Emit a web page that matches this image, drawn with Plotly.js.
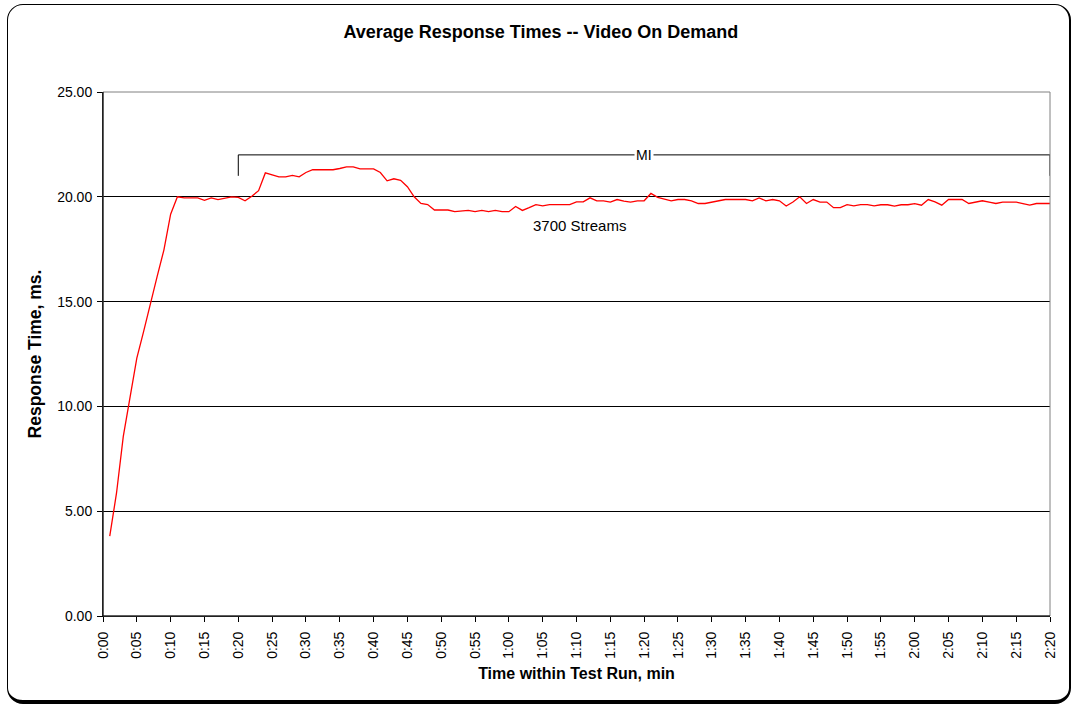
<!DOCTYPE html>
<html>
<head>
<meta charset="utf-8">
<script src="https://cdn.plot.ly/plotly-3.0.1.min.js"></script>
<style>
  html, body { margin: 0; padding: 0; background: #fff; }
  #wrap { position: relative; width: 1071px; height: 708px; overflow: hidden; }
  #chart { position: absolute; left: 0; top: 0; width: 1071px; height: 708px; }
  #frame { position: absolute; left: 7px; top: 4px; width: 1064px; height: 700px;
           border: 1.5px solid #000; border-bottom-width: 4px; border-right-width: 2px;
           border-radius: 16px; pointer-events: none; box-sizing: border-box; }
</style>
</head>
<body>
<div id="wrap">
  <div id="chart"></div>
  <div id="frame"></div>
</div>
<script>
// ---- data ----
const firstMinute = 1;
const responseTimes = [
  3.81, 5.87, 8.57, 10.48, 12.30, 13.57, 14.92, 16.19, 17.46, 19.17,
  20.00, 19.95, 19.95, 19.95, 19.83, 19.95, 19.87, 19.94, 20.00, 19.97,
  19.81, 20.03, 20.29, 21.14, 21.03, 20.95, 20.95, 21.02, 20.95, 21.16,
  21.29, 21.29, 21.29, 21.29, 21.35, 21.43, 21.43, 21.33, 21.33, 21.33,
  21.16, 20.76, 20.86, 20.79, 20.48, 20.00, 19.68, 19.63, 19.37, 19.37,
  19.37, 19.29, 19.32, 19.35, 19.29, 19.35, 19.29, 19.35, 19.29, 19.29,
  19.54, 19.35, 19.48, 19.63, 19.57, 19.63, 19.63, 19.63, 19.63, 19.76,
  19.76, 19.95, 19.81, 19.81, 19.75, 19.87, 19.79, 19.75, 19.81, 19.81,
  20.16, 19.97, 19.90, 19.81, 19.87, 19.87, 19.81, 19.68, 19.68, 19.75,
  19.81, 19.87, 19.87, 19.87, 19.87, 19.81, 19.95, 19.81, 19.87, 19.81,
  19.56, 19.75, 20.00, 19.68, 19.87, 19.75, 19.75, 19.48, 19.48, 19.63,
  19.57, 19.63, 19.63, 19.57, 19.62, 19.62, 19.56, 19.62, 19.62, 19.67,
  19.60, 19.87, 19.76, 19.60, 19.87, 19.87, 19.87, 19.68, 19.75, 19.81,
  19.75, 19.68, 19.75, 19.75, 19.75, 19.68, 19.60, 19.68, 19.68, 19.68
];
const minutes = responseTimes.map((_, i) => firstMinute + i);

const xTickValues = [0,5,10,15,20,25,30,35,40,45,50,55,60,65,70,75,80,85,90,95,100,105,110,115,120,125,130,135,140];
const xTickLabels = ["0:00","0:05","0:10","0:15","0:20","0:25","0:30","0:35","0:40","0:45","0:50","0:55",
  "1:00","1:05","1:10","1:15","1:20","1:25","1:30","1:35","1:40","1:45","1:50","1:55",
  "2:00","2:05","2:10","2:15","2:20"];

const seriesLabel = "3700 Streams";
const seriesLabelAt = [70.5, 18.65];

// measurement interval bracket
const miLabel = "MI";
const miStart = 20, miEnd = 140, miLevel = 22, miFoot = 21;

// ---- chart ----
const font = "Liberation Sans, Arial, sans-serif";

const traces = [
  {
    x: minutes, y: responseTimes, type: 'scatter', mode: 'lines',
    line: { color: '#ff0000', width: 1.3 }, hoverinfo: 'x+y', showlegend: false
  },
  {
    x: [miStart, miStart, miEnd, miEnd], y: [miFoot, miLevel, miLevel, miFoot],
    type: 'scatter', mode: 'lines', line: { color: '#000', width: 1 },
    hoverinfo: 'skip', showlegend: false
  }
];

const layout = {
  width: 1071, height: 708,
  margin: { l: 103, r: 21, t: 92, b: 92 },
  paper_bgcolor: '#fff', plot_bgcolor: '#fff',
  font: { family: font, size: 14, color: '#000' },
  title: {
    text: 'Average Response Times -- Video On Demand',
    font: { family: font, size: 18, color: '#000', weight: 'bold' },
    xref: 'container', x: 0.505, xanchor: 'center',
    yref: 'container', y: 1 - 32 / 708, yanchor: 'middle'
  },
  xaxis: {
    range: [0, 140], tickmode: 'array', tickvals: xTickValues, ticktext: xTickLabels,
    tickangle: -90, ticks: 'outside', ticklen: 5, tickcolor: '#000', tickwidth: 1,
    ticklabelstandoff: 4,
    showline: true, linecolor: '#000', linewidth: 1, showgrid: false, zeroline: false,
    tickfont: { family: font, size: 14, color: '#000' },
    title: { text: 'Time within Test Run, min', standoff: 9,
             font: { family: font, size: 16, color: '#000', weight: 'bold' } }
  },
  yaxis: {
    range: [0, 25], dtick: 5, tick0: 0, tickformat: '.2f',
    ticks: 'outside', ticklen: 5, tickcolor: '#000', tickwidth: 1,
    ticklabelstandoff: 2,
    showline: true, linecolor: '#000', linewidth: 1,
    showgrid: true, gridcolor: '#000', gridwidth: 1, zeroline: false,
    tickfont: { family: font, size: 14, color: '#000' },
    title: { text: 'Response Time, ms.', standoff: 11,
             font: { family: font, size: 17.5, color: '#000', weight: 'bold' } }
  },
  shapes: [
    { type: 'rect', xref: 'paper', yref: 'paper', x0: 0, x1: 1, y0: 0, y1: 1,
      line: { color: '#808080', width: 1 }, layer: 'above' },
    { type: 'line', xref: 'paper', yref: 'paper', x0: 0, x1: 1, y0: 0, y1: 0,
      line: { color: '#000', width: 1 }, layer: 'above' },
    { type: 'line', xref: 'paper', yref: 'paper', x0: 0, x1: 0, y0: 0, y1: 1,
      line: { color: '#000', width: 1 }, layer: 'above' }
  ],
  annotations: [
    { x: (miStart + miEnd) / 2, y: miLevel, text: miLabel, showarrow: false,
      bgcolor: '#fff', borderpad: 1, font: { family: font, size: 14, color: '#000' } },
    { x: seriesLabelAt[0], y: seriesLabelAt[1], text: seriesLabel, showarrow: false,
      font: { family: font, size: 15, color: '#000' } }
  ]
};

Plotly.newPlot('chart', traces, layout, { displayModeBar: false, staticPlot: true });
</script>
</body>
</html>
